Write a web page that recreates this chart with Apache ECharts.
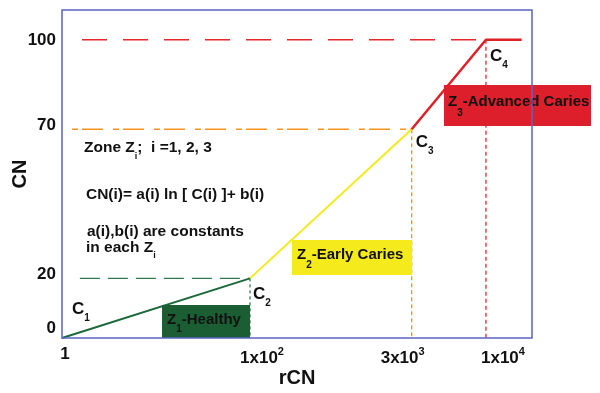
<!DOCTYPE html>
<html><head><meta charset="utf-8">
<script src="https://cdn.jsdelivr.net/npm/echarts@6/dist/echarts.min.js"></script>
<style>html,body{margin:0;padding:0;background:#fff}#c{width:600px;height:393px}</style>
</head><body><div id="c"></div>
<script>
// ---- DATA ----
// Transition points C1..C4 : x = schematic position on the rCN axis, y = CN
const pointNames = ['C1', 'C2', 'C3', 'C4'];
const pointX = [0, 2, 3.72, 4.51];
const pointCN = [0, 20, 70, 100];
const plateauEndX = 4.89;
// rCN tick labels (mantissa + exponent) at their schematic axis positions
const xTickPos = [0, 2, 3.72, 4.51];
const xTickBase = ['1', '1x10', '3x10', '1x10'];
const xTickExp = ['', '2', '3', '4'];
// CN tick labels
const yTicks = [0, 20, 70, 100];
// zones
const zoneIds = ['1', '2', '3'];
const zoneNames = ['-Healthy', '-Early Caries', '-Advanced Caries'];

// ---- STYLE / LAYOUT ----
const FONT = '"Liberation Sans", Arial, Helvetica, sans-serif';
const INK = '#111';
const zoneColors = ['#1c6a3a', '#f4ea1c', '#e01f27'];
const zoneBoxColors = ['#1b5e33', '#f4ea1c', '#dc1f2a'];
const zoneLineWidths = [2, 2, 2.5];
const refColors = ['#2e7a4a', '#f7941d', '#e8262d'];
const refStartX = [0.19, 0.106, 0.213];
const refHDash = [[20, 8], [6, 4, 21, 10], [25, 16]];
const refVDash = [[3, 3], [4, 3], [4, 3]];
const boxAnchor = [[1.064, 11.07], [2.447, 32.86], [4.064, 84.84]];
const boxWidth = [83, 115, 143];
const boxPad = [[1, 0, 4, 5], [0, 0, 5, 5], [0, 0, 8, 4]];
const boxLineH = [28, 30, 33];
const pointLabelOffset = [[10, -29], [3, 16], [4, 13], [4, 16]];
const xLabelShift = [3, 12, -9, 17];
const yLabelLift = [10, 4, 4, 0];
const notes = [
  { pos: [0.234, 63.7], text: '{t|Zone Z}{s|i}{t|;  i =1, 2, 3}' },
  { pos: [0.255, 48.0], text: '{t|CN(i)= a(i) ln [ C(i) ]+ b(i)}' },
  { pos: [0.266, 35.5], text: '{t|a(i),b(i) are constants}' },
  { pos: [0.255, 30.3], text: '{t|in each Z}{s|i}' }
];

// ---- BUILD ----
const series = [];
zoneIds.forEach((z, i) => {
  const data = [[pointX[i], pointCN[i]], [pointX[i + 1], pointCN[i + 1]]];
  if (i === zoneIds.length - 1) data.push([plateauEndX, pointCN[i + 1]]);
  series.push({
    type: 'line', name: 'Z' + z, data, showSymbol: false, z: -3,
    lineStyle: { color: zoneColors[i], width: zoneLineWidths[i] }, silent: true
  });
});
for (let k = 1; k < pointX.length; k++) {
  const j = k - 1;
  series.push({
    type: 'line', data: [[refStartX[j], pointCN[k]], [pointX[k], pointCN[k]]],
    showSymbol: false, z: -4, silent: true,
    lineStyle: { color: refColors[j], width: 1.4, type: refHDash[j] }
  });
  series.push({
    type: 'line', data: [[pointX[k], pointCN[k]], [pointX[k], 0]],
    showSymbol: false, z: -4, silent: true,
    lineStyle: { color: refColors[j], width: 1.3, type: refVDash[j] }
  });
}
const annot = { type: 'scatter', symbolSize: 0, z: -1, silent: true, itemStyle: { opacity: 1 }, emphasis: { disabled: true } };
series.push(Object.assign({}, annot, {
  data: pointNames.map((n, i) => ({
    value: [pointX[i], pointCN[i]],
    label: {
      show: true, position: [0, 0], align: 'left', verticalAlign: 'middle',
      offset: pointLabelOffset[i],
      formatter: '{c|' + n.charAt(0) + '}{s|' + n.slice(1) + '}',
      rich: {
        c: { fontFamily: FONT, fontWeight: 'bold', fontSize: 17, lineHeight: 28, color: INK },
        s: { fontFamily: FONT, fontWeight: 'bold', fontSize: 10, lineHeight: 9, verticalAlign: 'bottom', color: INK }
      }
    }
  }))
}));
series.push(Object.assign({}, annot, {
  data: zoneIds.map((z, i) => ({
    value: boxAnchor[i],
    label: {
      show: true, position: [0, 0], align: 'left', verticalAlign: 'top', opacity: 1,
      backgroundColor: zoneBoxColors[i], padding: boxPad[i], width: boxWidth[i],
      formatter: '{t|Z}{s|' + z + '}{t|' + zoneNames[i] + '}',
      rich: {
        t: { fontFamily: FONT, fontWeight: 'bold', fontSize: 15, lineHeight: boxLineH[i], color: INK },
        s: { fontFamily: FONT, fontWeight: 'bold', fontSize: 10, lineHeight: 9, verticalAlign: 'bottom', color: INK }
      }
    }
  }))
}));
series.push(Object.assign({}, annot, {
  data: notes.map(n => ({
    value: n.pos,
    label: {
      show: true, position: [0, 0], align: 'left', verticalAlign: 'middle',
      formatter: n.text,
      rich: {
        t: { fontFamily: FONT, fontWeight: 'bold', fontSize: 15.5, lineHeight: 25, color: INK },
        s: { fontFamily: FONT, fontWeight: 'bold', fontSize: 9, lineHeight: 8, verticalAlign: 'bottom', color: INK }
      }
    }
  }))
}));

const xRich = {};
xTickPos.forEach((p, i) => {
  const sh = xLabelShift[i];
  const padL = sh > 0 ? 2 * sh : 0, padR = sh < 0 ? -2 * sh : 0;
  const base = { fontFamily: FONT, fontWeight: 'bold', fontSize: 17, color: INK };
  if (xTickExp[i] === '') {
    xRich['b' + i] = Object.assign({}, base, { lineHeight: 11, verticalAlign: 'top', padding: [0, padR, 0, padL] });
  } else {
    xRich['b' + i] = Object.assign({}, base, { lineHeight: 24, padding: [0, 0, 0, padL] });
    xRich['e' + i] = Object.assign({}, base, { fontSize: 11, lineHeight: 11, verticalAlign: 'top', padding: [0, padR, 0, 0] });
  }
});
const yRich = {};
yTicks.forEach((v, i) => {
  yRich['y' + i] = { fontFamily: FONT, fontWeight: 'bold', fontSize: 17, color: INK, lineHeight: 18, padding: [0, 0, 2 * yLabelLift[i], 0] };
});

const chart = echarts.init(document.getElementById('c'), null, { renderer: 'canvas' });
chart.setOption({
  backgroundColor: '#fff',
  animation: false,
  grid: { left: 62, right: 68, top: 10, bottom: 55, containLabel: false, outerBoundsMode: 'none',
          show: true, borderColor: '#5a64c4', borderWidth: 1.5, backgroundColor: 'transparent' },
  xAxis: {
    type: 'value', min: 0, max: 5,
    name: 'rCN', nameLocation: 'middle', nameGap: 30, nameMoveOverlap: false,
    nameTextStyle: { fontFamily: FONT, fontWeight: 'bold', fontSize: 20, color: INK },
    axisLine: { show: false }, axisTick: { show: false }, splitLine: { show: false },
    axisLabel: {
      customValues: xTickPos, margin: 8,
      formatter: (v) => {
        const i = xTickPos.indexOf(v);
        if (i < 0) return '';
        return xTickExp[i] === '' ? '{b' + i + '|' + xTickBase[i] + '}'
          : '{b' + i + '|' + xTickBase[i] + '}{e' + i + '|' + xTickExp[i] + '}';
      },
      rich: xRich
    }
  },
  yAxis: {
    type: 'value', min: 0, max: 110,
    name: 'CN', nameLocation: 'middle', nameGap: 32, nameRotate: 90, nameMoveOverlap: false,
    nameTextStyle: { fontFamily: FONT, fontWeight: 'bold', fontSize: 20, color: INK },
    axisLine: { show: false }, axisTick: { show: false }, splitLine: { show: false },
    axisLabel: {
      customValues: yTicks, margin: 6,
      formatter: (v) => {
        const i = yTicks.indexOf(v);
        return i < 0 ? '' : '{y' + i + '|' + v + '}';
      },
      rich: yRich
    }
  },
  series
});
</script></body></html>
